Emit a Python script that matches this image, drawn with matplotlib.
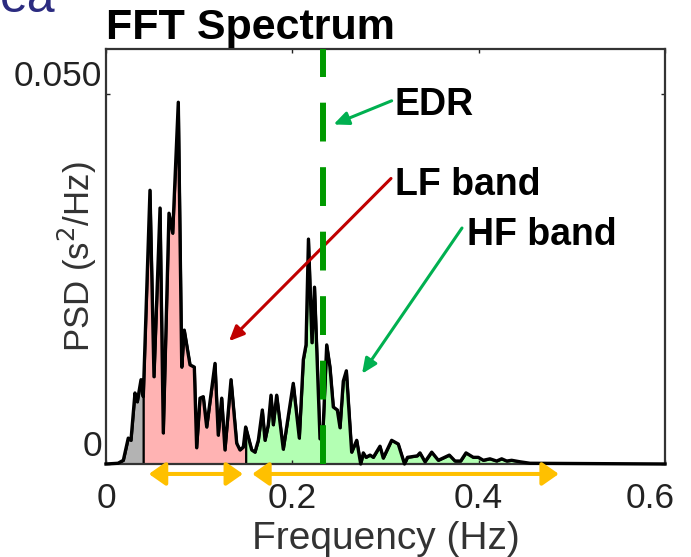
import numpy as np
import matplotlib
matplotlib.use("Agg")
import matplotlib.pyplot as plt
from matplotlib.transforms import ScaledTranslation, blended_transform_factory

plt.rcParams['font.family'] = ['Liberation Sans', 'DejaVu Sans']

# ---------- données ----------
freq_hz = [0.0, 0.0129, 0.0186, 0.0239, 0.0268, 0.0311, 0.0336, 0.0376, 0.0400,
           0.0472, 0.0515, 0.0580, 0.0615, 0.0676, 0.0716, 0.0776, 0.0813, 0.0840,
           0.0902, 0.0948, 0.0973, 0.1009, 0.1044, 0.1081, 0.1170, 0.1205, 0.1242,
           0.1277, 0.1342, 0.1403, 0.1438, 0.1474, 0.1499, 0.1564, 0.1599, 0.1635,
           0.1678, 0.1707, 0.1742, 0.1771, 0.1796, 0.1832, 0.1903, 0.2010, 0.2075,
           0.2118, 0.2147, 0.2173, 0.2211, 0.2238, 0.2297, 0.2332, 0.2369, 0.2404,
           0.2440, 0.2483, 0.2512, 0.2547, 0.2580, 0.2637, 0.2691, 0.2734, 0.2762,
           0.2791, 0.2834, 0.2869, 0.2941, 0.2976, 0.3066, 0.3137, 0.3204, 0.3236,
           0.3341, 0.3370, 0.3424, 0.3496, 0.3567, 0.3685, 0.3746, 0.3807, 0.3864,
           0.3942, 0.3996, 0.4050, 0.4121, 0.4193, 0.4247, 0.4301, 0.4354, 0.4443,
           0.4551, 0.6]
psd = [0.0, 0.0001, 0.0005, 0.0035, 0.0032, 0.0096, 0.0084, 0.0114, 0.0091,
       0.0370, 0.0118, 0.0346, 0.0042, 0.0339, 0.0312, 0.0489, 0.0131, 0.0181,
       0.0134, 0.0131, 0.0022, 0.0089, 0.0091, 0.0050, 0.0136, 0.0039, 0.0089,
       0.0019, 0.0114, 0.0028, 0.0019, 0.0023, 0.0050, 0.0019, 0.0016, 0.0032,
       0.0073, 0.0032, 0.0053, 0.0093, 0.0053, 0.0093, 0.0020, 0.0109, 0.0035,
       0.0141, 0.0161, 0.0304, 0.0164, 0.0239, 0.0034, 0.0053, 0.0161, 0.0131,
       0.0077, 0.0073, 0.0049, 0.0112, 0.0126, 0.0016, 0.0032, 0.0000, 0.0015,
       0.0009, 0.0012, 0.0009, 0.0024, 0.0008, 0.0032, 0.0027, 0.0000, 0.0009,
       0.0011, 0.0015, 0.0003, 0.0016, 0.0005, 0.0012, 0.0004, 0.0004, 0.0015,
       0.0009, 0.0009, 0.0005, 0.0007, 0.0004, 0.0007, 0.0004, 0.0005, 0.0003,
       0.0001, 0.0]

bands = [(0.0, 0.04, "#b3b3b3"), (0.04, 0.15, "#ffb3b3"), (0.15, 0.6, "#b3ffb3")]
edr_hz = 0.233
lf_range = (0.046, 0.147)
hf_range = (0.157, 0.486)
xticks = [0, 0.2, 0.4, 0.6]
xtick_labels = ["0", "0.2", "0.4", "0.6"]
yticks = [0, 0.05]
ytick_labels = ["0", "0.050"]
# ------------------------------------------------

f = np.array(freq_hz)
p = np.array(psd)

fig = plt.figure(figsize=(6.91, 5.57), dpi=100)
ax = fig.add_axes([106/691, 93/557, 559/691, 415/557])

for a, b, col in bands:
    inner = (f > a) & (f < b)
    xb = np.concatenate([[a], f[inner], [b]])
    yb = np.interp(xb, f, p)
    ax.fill_between(xb, 0, yb, facecolor=col, edgecolor="black", linewidth=1.5, zorder=1)

ax.plot(f, p, color="black", linewidth=2.4, zorder=3, clip_on=False)
ax.axvline(edr_hz, color="#009a00", linewidth=4.3, linestyle=(0, (6.5, 4.3)), zorder=4)

ax.set_xlim(0, 0.6)
ax.set_ylim(0, 0.0561)
ax.set_xticks(xticks)
ax.set_xticklabels(xtick_labels)
ax.set_yticks(yticks)
ax.set_yticklabels(ytick_labels)
ax.tick_params(direction="in", length=3, width=1.0, labelsize=25.5, colors="#222222",
               top=True, right=True, pad=3)
ax.tick_params(axis="x", pad=13)
for s in ax.spines.values():
    s.set_linewidth(1.6)
    s.set_color("#333333")

# décalage des étiquettes comme sur l'original
for lab in ax.get_yticklabels():
    lab.set_transform(lab.get_transform() + ScaledTranslation(0, 0.21, fig.dpi_scale_trans))
xl = ax.get_xticklabels()
xl[-1].set_transform(xl[-1].get_transform() + ScaledTranslation(-0.15, 0, fig.dpi_scale_trans))

ax.set_xlabel("Frequency (Hz)", fontsize=28, color="#333333", labelpad=4)
ax.set_ylabel("PSD (s$^2$/Hz)", fontsize=25, color="#333333")
ax.yaxis.set_label_coords(-0.012, 0.5)
ax.set_title("FFT Spectrum", loc="left", fontsize=31, fontweight="bold", pad=7)

# annotations
ann = dict(fontsize=27, fontweight="bold", va="center", ha="left")
ax.text(0.310, 0.0485, "EDR", **ann)
ax.text(0.310, 0.0377, "LF band", **ann)
ax.text(0.3875, 0.0309, "HF band", **ann)
ax.annotate("", xy=(0.2442, 0.0459), xytext=(0.3066, 0.0491),
            arrowprops=dict(arrowstyle="-|>,head_length=0.45,head_width=0.2",
                            color="#00b050", lw=2.2, shrinkA=0, shrinkB=0, mutation_scale=20))
ax.annotate("", xy=(0.1320, 0.0166), xytext=(0.3059, 0.0386),
            arrowprops=dict(arrowstyle="-|>,head_length=0.45,head_width=0.2",
                            color="#c00000", lw=2.2, shrinkA=0, shrinkB=0, mutation_scale=20))
ax.annotate("", xy=(0.2748, 0.0122), xytext=(0.3821, 0.0319),
            arrowprops=dict(arrowstyle="-|>,head_length=0.45,head_width=0.2",
                            color="#00b050", lw=2.2, shrinkA=0, shrinkB=0, mutation_scale=20))

# flèches orange sous l'axe
trans = blended_transform_factory(ax.transData, ax.transAxes)
for lo, hi in (lf_range, hf_range):
    ax.annotate("", xy=(hi, -0.024), xytext=(lo, -0.024), xycoords=trans, textcoords=trans,
                arrowprops=dict(arrowstyle="<|-|>,head_length=0.5,head_width=0.35",
                                color="#ffc000", lw=2.9, shrinkA=0, shrinkB=0, mutation_scale=20),
                annotation_clip=False)

fig.text(0.0, 1 - 12/557, "ea", fontsize=36, color="#2b2b80", ha="left", va="baseline")

fig.savefig("out.png", dpi=100)
